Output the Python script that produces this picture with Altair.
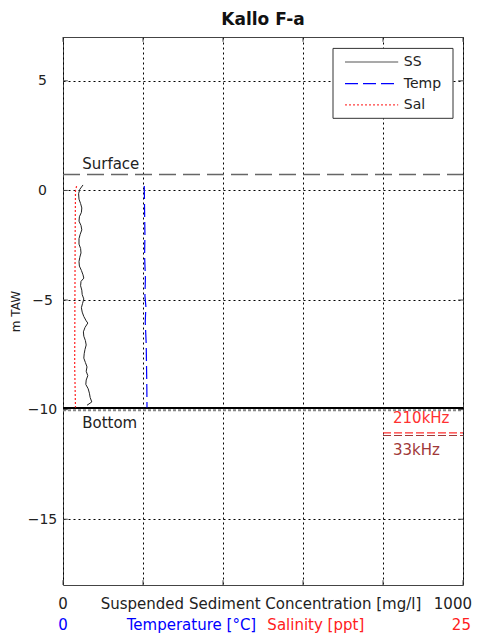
import altair as alt
import pandas as pd

# ---- data ----
ss_depth = [0.25, 0.05, -0.15, -0.40, -0.60, -0.80, -1.00, -1.20, -1.40, -1.60, -1.80, -2.00,
            -2.20, -2.45, -2.65, -2.85, -3.05, -3.25, -3.45, -3.65, -3.85, -4.00, -4.15, -4.35,
            -4.55, -4.75, -4.95, -5.15, -5.35, -5.55, -5.75, -5.95, -6.05, -6.25, -6.45, -6.65,
            -6.85, -7.05, -7.25, -7.45, -7.65, -7.85, -8.05, -8.25, -8.45, -8.65, -8.85, -9.05,
            -9.25, -9.45, -9.65, -9.80]
ss_value = [50, 42, 39, 40, 44, 47, 46, 41, 40, 45, 47, 43,
            40, 40, 44, 45, 42, 40, 41, 46, 50, 52, 45, 44,
            47, 48, 52, 49, 46, 48, 52, 58, 62, 55, 51, 52,
            56, 58, 55, 53, 52, 56, 60, 58, 62, 58, 57, 63,
            66, 68, 72, 60]

temp_depth = [0.2, -1.0, -2.0, -3.0, -4.0, -4.8, -5.3, -6.0, -7.0, -8.0, -9.0, -9.9]
temp_value = [5.08, 5.10, 5.12, 5.10, 5.15, 5.12, 5.18, 5.14, 5.20, 5.22, 5.24, 5.25]

sal_depth = [0.2, 0.0, -2.0, -4.0, -6.0, -8.0, -9.9]
sal_value = [0.85, 0.78, 0.76, 0.75, 0.74, 0.73, 0.78]

surface_level = 0.73
bottom_level = -9.93
freq_210_level = -11.06
freq_33_level = -11.18

y_ticks = [-15, -10, -5, 0, 5]
x_ticks = [0, 200, 400, 600, 800, 1000]

FONT = "DejaVu Sans"

X = alt.Scale(domain=[0, 1000], nice=False, zero=False)
X2 = alt.Scale(domain=[0, 25], nice=False, zero=False)
Y = alt.Scale(domain=[-18, 7], nice=False, zero=False)

x_axis = alt.Axis(values=x_ticks, grid=True, labels=False, ticks=False, domain=False, title=None,
                  gridDash=[2, 3], gridColor="black", gridOpacity=1, gridWidth=1)
y_axis = alt.Axis(values=y_ticks, grid=True, ticks=False, domain=False, title="m TAW",
                  gridDash=[2, 3], gridColor="black", gridOpacity=1, gridWidth=1,
                  labelFont=FONT, labelFontSize=14, labelColor="#222", labelPadding=21,
                  labelAlign="center",
                  titleFont=FONT, titleFontSize=12, titleFontWeight="normal", titleColor="#222",
                  titleX=-48, titleY=274, titleAngle=270, titleAlign="center",
                  titleBaseline="middle")


def xq(field, scale=X, axis=None):
    return alt.X(field, type="quantitative", scale=scale, axis=axis)


def yq(field):
    return alt.Y(field, type="quantitative", scale=Y, axis=y_axis)


ss_df = pd.DataFrame({"depth": ss_depth, "ss": ss_value, "i": range(len(ss_depth))})
temp_df = pd.DataFrame({"depth": temp_depth, "t": temp_value, "i": range(len(temp_depth))})
sal_df = pd.DataFrame({"depth": sal_depth, "s": sal_value, "i": range(len(sal_depth))})

ss_line = alt.Chart(ss_df).mark_line(color="#222", strokeWidth=1).encode(
    x=xq("ss", axis=x_axis), y=yq("depth"), order="i:Q")

temp_line = alt.Chart(temp_df).mark_line(color="#0000ff", strokeWidth=1.2, strokeDash=[13, 5]).encode(
    x=xq("t", X2), y=yq("depth"), order="i:Q")

sal_line = alt.Chart(sal_df).mark_line(color="#ff2020", strokeWidth=1.2, strokeDash=[2, 2]).encode(
    x=xq("s", X2), y=yq("depth"), order="i:Q")

# horizontal level lines
surf_df = pd.DataFrame({"x0": [0], "x1": [1000], "y": [surface_level]})
surface_rule = alt.Chart(surf_df).mark_rule(
    color="#666", strokeWidth=1.5, strokeDash=[17, 7]).encode(
    x=xq("x0"), x2="x1", y=yq("y"))
bot_df = pd.DataFrame({"x0": [0], "x1": [1000], "y": [bottom_level]})
bottom_rule = alt.Chart(bot_df).mark_rule(
    color="black", strokeWidth=2).encode(x=xq("x0"), x2="x1", y=yq("y"))
botg_df = pd.DataFrame({"x0": [0], "x1": [1000], "y": [-10.03]})
bottom_grid = alt.Chart(botg_df).mark_rule(
    color="#888", strokeWidth=2, strokeDash=[3, 2]).encode(x=xq("x0"), x2="x1", y=yq("y"))

freq_df = pd.DataFrame({"x0": [800, 800], "x1": [1000, 1000],
                        "y": [freq_210_level, freq_33_level],
                        "c": ["#ff3030", "#a03838"]})
freq_rules = alt.Chart(freq_df).mark_rule(strokeWidth=1.2, strokeDash=[8, 3]).encode(
    x=xq("x0"), x2="x1", y=yq("y"), color=alt.Color("c:N", scale=None))

# in-plot labels
ann_df = pd.DataFrame({
    "text": ["Surface", "Bottom", "210kHz", "33kHz"],
    "x": [48, 48, 825, 825],
    "y": [1.19, -10.6, -10.38, -11.86],
    "c": ["#222", "#222", "#ff3030", "#a03838"],
})
ann = alt.Chart(ann_df).mark_text(font=FONT, fontSize=15, align="left", baseline="middle").encode(
    x=xq("x"), y=yq("y"), text="text:N", color=alt.Color("c:N", scale=None))

# inward ticks (Matlab style)
ytick_df = pd.DataFrame({"y": y_ticks * 2, "x0": [0] * 5 + [988] * 5, "x1": [12] * 5 + [1000] * 5})
ytick = alt.Chart(ytick_df).mark_rule(color="#444", strokeWidth=1).encode(
    x=xq("x0"), x2="x1", y=yq("y"))
xtick_df = pd.DataFrame({"x": x_ticks * 2, "y0": [-18] * 6 + [7] * 6, "y1": [-17.78] * 6 + [6.78] * 6})
xtick = alt.Chart(xtick_df).mark_rule(color="#444", strokeWidth=1).encode(
    x=xq("x"), y=yq("y0"), y2="y1")

# legend box
leg_box_df = pd.DataFrame({"x0": [675], "x1": [975], "y0": [6.48], "y1": [3.29]})
leg_box = alt.Chart(leg_box_df).mark_rect(fill="white", stroke="#333", strokeWidth=1).encode(
    x=xq("x0"), x2="x1", y=yq("y0"), y2="y1")
leg_names = ["SS", "Temp", "Sal"]
leg_y = [5.86, 4.87, 3.90]
leg_colors = ["#555", "#0000ff", "#ff4040"]
leg_dash = [[1, 0], [13, 5], [2, 2]]
leg_layers = []
for name, yy, col, dash in zip(leg_names, leg_y, leg_colors, leg_dash):
    d = pd.DataFrame({"x0": [705], "x1": [838], "y": [yy]})
    leg_layers.append(alt.Chart(d).mark_rule(color=col, strokeWidth=1.2, strokeDash=dash).encode(
        x=xq("x0"), x2="x1", y=yq("y")))
leg_txt_df = pd.DataFrame({"text": leg_names, "x": [852] * 3, "y": leg_y})
leg_txt = alt.Chart(leg_txt_df).mark_text(font=FONT, fontSize=14, align="left", baseline="middle",
                                          color="#222").encode(x=xq("x"), y=yq("y"), text="text:N")

# bottom axis labels (two rows)
row1_df = pd.DataFrame({"text": ["0", "Suspended Sediment Concentration [mg/l]"],
                        "x": [0, 495]})
row1 = alt.Chart(row1_df).mark_text(font=FONT, fontSize=15, align="center", baseline="middle",
                                    color="#222").encode(x=xq("x"), y=alt.value(567), text="text:N")
row1b_df = pd.DataFrame({"text": ["1000"], "x": [1000]})
row1b = alt.Chart(row1b_df).mark_text(font=FONT, fontSize=15, align="right", baseline="middle",
                                      dx=9, color="#222").encode(
    x=xq("x"), y=alt.value(567), text="text:N")
row2_df = pd.DataFrame({"text": ["0", "Temperature [°C]", "Salinity [ppt]", "25"],
                        "x": [0, 8.03, 15.8, 24.9],
                        "c": ["#0000ff", "#0000ff", "#ff2020", "#ff2020"]})
row2 = alt.Chart(row2_df).mark_text(font=FONT, fontSize=15, align="center", baseline="middle").encode(
    x=xq("x", X2), y=alt.value(588), text="text:N", color=alt.Color("c:N", scale=None))

chart = alt.layer(
    ss_line, surface_rule, bottom_grid, bottom_rule, freq_rules, ytick, xtick,
    temp_line, sal_line, ann, leg_box, *leg_layers, leg_txt, row1, row1b, row2
).resolve_scale(x="independent").properties(
    width=400, height=548,
    title=alt.TitleParams("Kallo F-a", font=FONT, fontSize=17, fontWeight="bold", color="#111",
                          anchor="middle", offset=8),
    autosize=alt.AutoSizeParams(type="none"),
    padding={"left": 55, "top": 29, "right": 10, "bottom": 50},
).configure_view(stroke="#444", strokeWidth=1)

chart.save("out.html", embed_options={"renderer": "svg", "actions": False})
